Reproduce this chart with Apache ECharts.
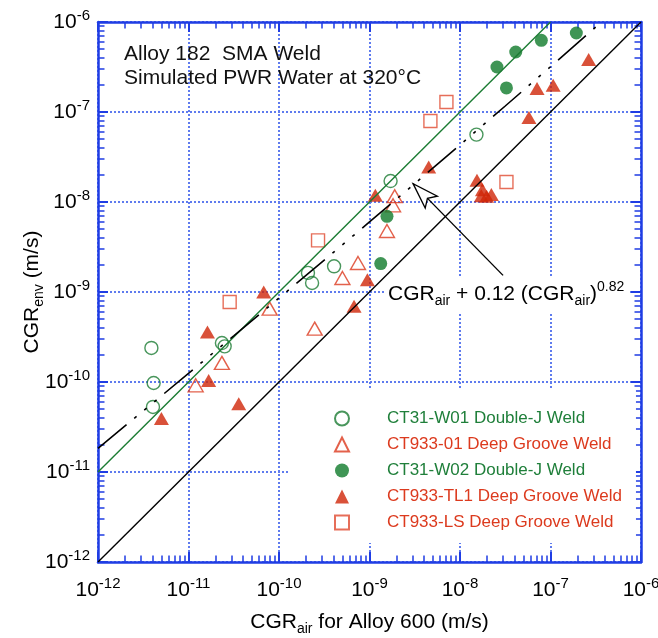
<!DOCTYPE html>
<html><head><meta charset="utf-8">
<script src="https://cdn.jsdelivr.net/npm/echarts@6/dist/echarts.min.js"></script>
<style>html,body{margin:0;padding:0;background:#fff}#c{width:658px;height:638px}</style>
</head><body><div id="c"></div>
<script>
// ---------------- data ----------------
const seriesNames = ['CT31-W01 Double-J Weld','CT933-01 Deep Groove Weld','CT31-W02 Double-J Weld','CT933-TL1 Deep Groove Weld','CT933-LS Deep Groove Weld'];

const w01X = [3.89e-12, 4.12e-12, 4.05e-12, 2.34e-11, 2.51e-11, 2.09e-10, 2.32e-10, 4.06e-10, 1.71e-9, 1.52e-8];
const w01Y = [2.39e-10, 9.75e-11, 5.28e-11, 2.71e-10, 2.49e-10, 1.63e-9, 1.26e-9, 1.93e-9, 1.71e-8, 5.61e-8];

const ct01X = [1.20e-11, 2.34e-11, 7.89e-11, 2.48e-10, 5.02e-10, 7.46e-10, 1.56e-9, 1.82e-9, 1.90e-9];
const ct01Y = [9.19e-11, 1.63e-10, 6.54e-10, 3.92e-10, 1.43e-9, 2.10e-9, 4.76e-9, 9.19e-9, 1.16e-8];

const w02X = [1.33e-9, 1.56e-9, 2.56e-8, 3.26e-8, 4.13e-8, 7.92e-8, 1.93e-7];
const w02Y = [2.07e-9, 6.93e-9, 3.16e-7, 1.85e-7, 4.64e-7, 6.26e-7, 7.55e-7];

const tl1X = [5.02e-12, 1.67e-11, 1.62e-11, 3.59e-11, 6.78e-11, 6.75e-10, 9.48e-10, 1.16e-9, 4.51e-9, 1.54e-8, 1.77e-8, 1.72e-8, 1.97e-8, 2.22e-8, 5.78e-8, 7.10e-8, 1.07e-7, 2.64e-7];
const tl1Y = [3.92e-11, 1.04e-10, 3.59e-10, 5.75e-11, 1.0e-9, 6.93e-10, 1.37e-9, 1.19e-8, 2.45e-8, 1.74e-8, 1.37e-8, 1.17e-8, 1.16e-8, 1.21e-8, 8.67e-8, 1.82e-7, 1.98e-7, 3.82e-7];

const lsX = [2.85e-11, 2.70e-10, 4.71e-9, 7.08e-9, 3.26e-8];
const lsY = [7.74e-10, 3.75e-9, 7.94e-8, 1.29e-7, 1.67e-8];

// reference lines
const unityX = [1e-12, 1e-6];
const unityY = [1e-12, 1e-6];
const greenLineX = [1e-12, 1e-7];
const greenLineY = [1e-11, 1e-6];
// CGRair + 0.12 (CGRair)^0.82 curve (read points)
const curveX = [1e-12, 3.162e-12, 1e-11, 3.162e-11, 1e-10, 3.162e-10, 1e-9, 3.162e-9, 1e-8, 3.162e-8, 1e-7, 3.66e-7];
const curveY = [1.834e-11, 4.77e-11, 1.246e-10, 3.26e-10, 8.57e-10, 2.26e-9, 6.0e-9, 1.60e-8, 4.305e-8, 1.166e-7, 3.184e-7, 1.0e-6];
// annotation arrow (tail -> tip)
const arrowX = [2.99e-8, 3.03e-9];
const arrowY = [1.53e-9, 1.60e-8];

// ---------------- style ----------------
const FONT = '"Liberation Sans", Arial, Helvetica, sans-serif';
const BLUE = '#1f3de4';
const GRIDC = '#5f7bee';
const GREEN = '#1b7c33';
const GREEN_T = '#1f7f3a';
const RED = '#cf2608';
const RED_T = '#dc3a1e';

const zip = (a, b) => a.map((v, i) => [v, b[i]]);

const expLabel = v => '{a|10}{b|' + Math.round(Math.log10(v)) + '}';
const tickRich = {
  a: {fontSize: 21, fontFamily: FONT, color: '#000', lineHeight: 28, verticalAlign: 'middle'},
  b: {fontSize: 15, fontFamily: FONT, color: '#000', lineHeight: 15, verticalAlign: 'top'}
};
const nameRich = {
  m: {fontSize: 21, fontFamily: FONT, color: '#000', lineHeight: 28, verticalAlign: 'middle'},
  s: {fontSize: 14, fontFamily: FONT, color: '#000', lineHeight: 14, verticalAlign: 'bottom'},
  p: {fontSize: 14, fontFamily: FONT, color: '#000', lineHeight: 14, verticalAlign: 'top'}
};

function logAxis(pos, main) {
  const isX = pos === 'bottom' || pos === 'top';
  const ax = {
    type: 'log', logBase: 10, min: 1e-12, max: 1e-6, splitNumber: 6, position: pos,
    axisLine: {show: true, onZero: false, lineStyle: {color: BLUE, width: 2.5}},
    axisTick: {show: true, inside: true, length: 10, lineStyle: {color: BLUE, width: 2}},
    minorTick: {show: true, splitNumber: 9, length: 6.5, lineStyle: {color: BLUE, width: 1.5}},
    minorSplitLine: {show: false},
    axisLabel: {show: false},
    splitLine: {show: false}
  };
  if (main) {
    ax.axisLabel = {show: true, margin: isX ? 14 : 8, formatter: expLabel, rich: tickRich};
    ax.splitLine = {show: true, lineStyle: {color: GRIDC, type: 'dotted', width: 2}};
  }
  return ax;
}

const xMain = logAxis('bottom', true);
xMain.name = '{m|CGR}{s|air}{m| for Alloy 600 (m/s)}';
xMain.nameLocation = 'middle';
xMain.nameGap = 46;
xMain.nameMoveOverlap = false;
xMain.nameTextStyle = {rich: nameRich};
const yMain = logAxis('left', true);
yMain.name = '{m|CGR}{s|env}{m| (m/s)}';
yMain.nameLocation = 'middle';
yMain.nameGap = 52;
yMain.nameMoveOverlap = false;
yMain.nameTextStyle = {rich: nameRich};

const openStyle = c => ({color: 'rgba(255,255,255,0)', borderColor: c, borderWidth: 1.4});

const option = {
  animation: false,
  backgroundColor: '#fff',
  textStyle: {fontFamily: FONT},
  grid: {left: 98, top: 22, right: 17, bottom: 76, containLabel: false, outerBoundsMode: 'none'},
  xAxis: [xMain, logAxis('top', false)],
  yAxis: [yMain, logAxis('right', false)],
  legend: {
    orient: 'vertical', left: 288, top: 388,
    backgroundColor: '#fff',
    padding: [22, 14, 12, 46],
    itemWidth: 14, itemHeight: 14, itemGap: 9,
    selectedMode: false,
    textStyle: {fontSize: 17, fontFamily: FONT, padding: [0, 0, 0, 33]},
    data: [
      {name: seriesNames[0], textStyle: {color: GREEN_T}},
      {name: seriesNames[1], textStyle: {color: RED_T}},
      {name: seriesNames[2], textStyle: {color: GREEN_T}},
      {name: seriesNames[3], textStyle: {color: RED_T}},
      {name: seriesNames[4], textStyle: {color: RED_T}}
    ]
  },
  series: [
    {name: seriesNames[0], type: 'scatter', symbol: 'circle', symbolSize: 13, z: 2,
     itemStyle: openStyle(GREEN), data: zip(w01X, w01Y)},
    {name: seriesNames[1], type: 'scatter', symbol: 'triangle', symbolSize: [15, 13], z: 2,
     itemStyle: openStyle(RED_T), data: zip(ct01X, ct01Y)},
    {name: seriesNames[2], type: 'scatter', symbol: 'circle', symbolSize: 13, z: 2,
     itemStyle: {color: '#0f7a2b'}, data: zip(w02X, w02Y)},
    {name: seriesNames[3], type: 'scatter', symbol: 'triangle', symbolSize: [15, 13], z: 2,
     itemStyle: {color: RED}, data: zip(tl1X, tl1Y)},
    {name: seriesNames[4], type: 'scatter', symbol: 'rect', symbolSize: 13, z: 2,
     itemStyle: openStyle('#e04a30'), data: zip(lsX, lsY)},
    {name: 'unity', type: 'line', showSymbol: false, silent: true, z: 3,
     lineStyle: {color: '#000', width: 1.4}, data: zip(unityX, unityY)},
    {name: 'fit', type: 'line', showSymbol: false, silent: true, z: 3,
     lineStyle: {color: GREEN, width: 1.4}, data: zip(greenLineX, greenLineY)},
    {name: 'model', type: 'line', showSymbol: false, silent: true, z: 3,
     lineStyle: {color: '#000', width: 1.6, type: [37, 10, 3, 10, 3, 10, 3, 10]}, data: zip(curveX, curveY)},
    {name: 'arrow', type: 'line', showSymbol: false, silent: true, z: 3,
     lineStyle: {color: '#000', width: 1.4}, data: zip(arrowX, arrowY)}
  ],
  graphic: [
    {id: 'title', type: 'text', z: 10, x: 124, y: 42,
     style: {text: 'Alloy 182  SMA Weld\nSimulated PWR Water at 320°C', font: '21px ' + FONT, fill: '#111', lineHeight: 24, align: 'left', verticalAlign: 'top'}},
    {id: 'formula', type: 'text', z: 10, x: 385, y: 296,
     style: {text: '{m|CGR}{s|air}{m| + 0.12 (CGR}{s|air}{m|)}{p|0.82}', rich: nameRich,
             backgroundColor: '#fff', padding: [2, 4, 6, 3], align: 'left', verticalAlign: 'middle'}}
  ]
};

const chart = echarts.init(document.getElementById('c'), null, {renderer: 'canvas'});
chart.setOption(option);

// arrow head at the tip of the annotation arrow
const tail = chart.convertToPixel({gridIndex: 0}, [arrowX[0], arrowY[0]]);
const tip = chart.convertToPixel({gridIndex: 0}, [arrowX[1], arrowY[1]]);
if (tail && tip) {
  const dx = tail[0] - tip[0], dy = tail[1] - tip[1];
  const len = Math.hypot(dx, dy);
  const ux = dx / len, uy = dy / len, nx = -uy, ny = ux;
  const L = 26, N = 20.5, H = 8.5;
  const pts = [
    [tip[0], tip[1]],
    [tip[0] + L * ux + H * nx, tip[1] + L * uy + H * ny],
    [tip[0] + N * ux, tip[1] + N * uy],
    [tip[0] + L * ux - H * nx, tip[1] + L * uy - H * ny]
  ];
  chart.setOption({graphic: [{id: 'arrowhead', type: 'polygon', z: 11,
    shape: {points: pts}, style: {fill: '#fff', stroke: '#000', lineWidth: 1.3}}]});
}
</script>
</body></html>
